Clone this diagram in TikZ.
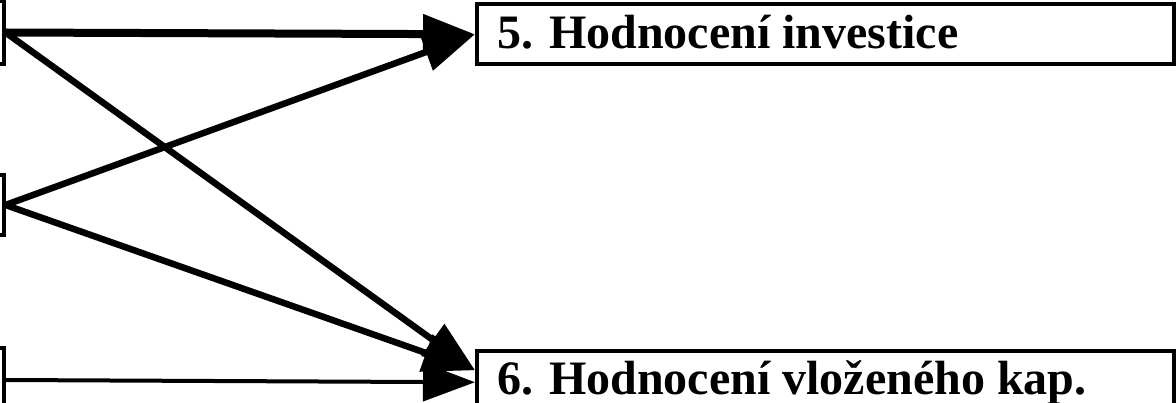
\documentclass[tikz,border=0pt]{standalone}
\usepackage{fontspec}
\setmainfont{Liberation Serif}
\usetikzlibrary{arrows.meta}
\begin{document}
\begin{tikzpicture}[x=1pt,y=-1pt,
  box/.style={draw, line width=3.5pt, fill=white, inner sep=0pt},
  caption/.style={anchor=base west, inner sep=0pt, font=\fontsize{48}{56}\selectfont\bfseries},
  flow/.style={-{Triangle[length=52pt,width=38pt]}, line width=6.5pt},
]
\useasboundingbox (0,0) rectangle (1176,403);
\clip (0,0) rectangle (1176,403);

% source boxes on the left (only their right edges fall inside the frame)
\node[box, minimum width=200pt, minimum height=63pt, anchor=east] (src1) at (5.5,32.5) {};
\node[box, minimum width=200pt, minimum height=60pt, anchor=east] (src2) at (5.5,205) {};
\node[box, minimum width=200pt, minimum height=64pt, anchor=east] (src3) at (5.5,380) {};

% target boxes on the right
\node[box, minimum width=697pt, minimum height=60pt, anchor=north west] (dst1) at (475,2.5) {};
\node[box, minimum width=697pt, minimum height=62pt, anchor=north west] (dst2) at (475,349.5) {};
\node[caption] (lab1) at (497,49) {5. Hodnocení investice};
\node[caption] (lab2) at (497,395) {6. Hodnocení vloženého kap.};

% connections
\draw[flow, line width=8pt] (src1.east) -- (dst1.west);
\draw[flow] (src1.east) -- ([yshift=12pt]dst2.west);
\draw[flow] (src2.east) -- (dst1.west);
\draw[flow] (src2.east) -- ([yshift=12pt]dst2.west);
\draw[flow, line width=4pt] (src3.east) -- (dst2.west);
\end{tikzpicture}
\end{document}
